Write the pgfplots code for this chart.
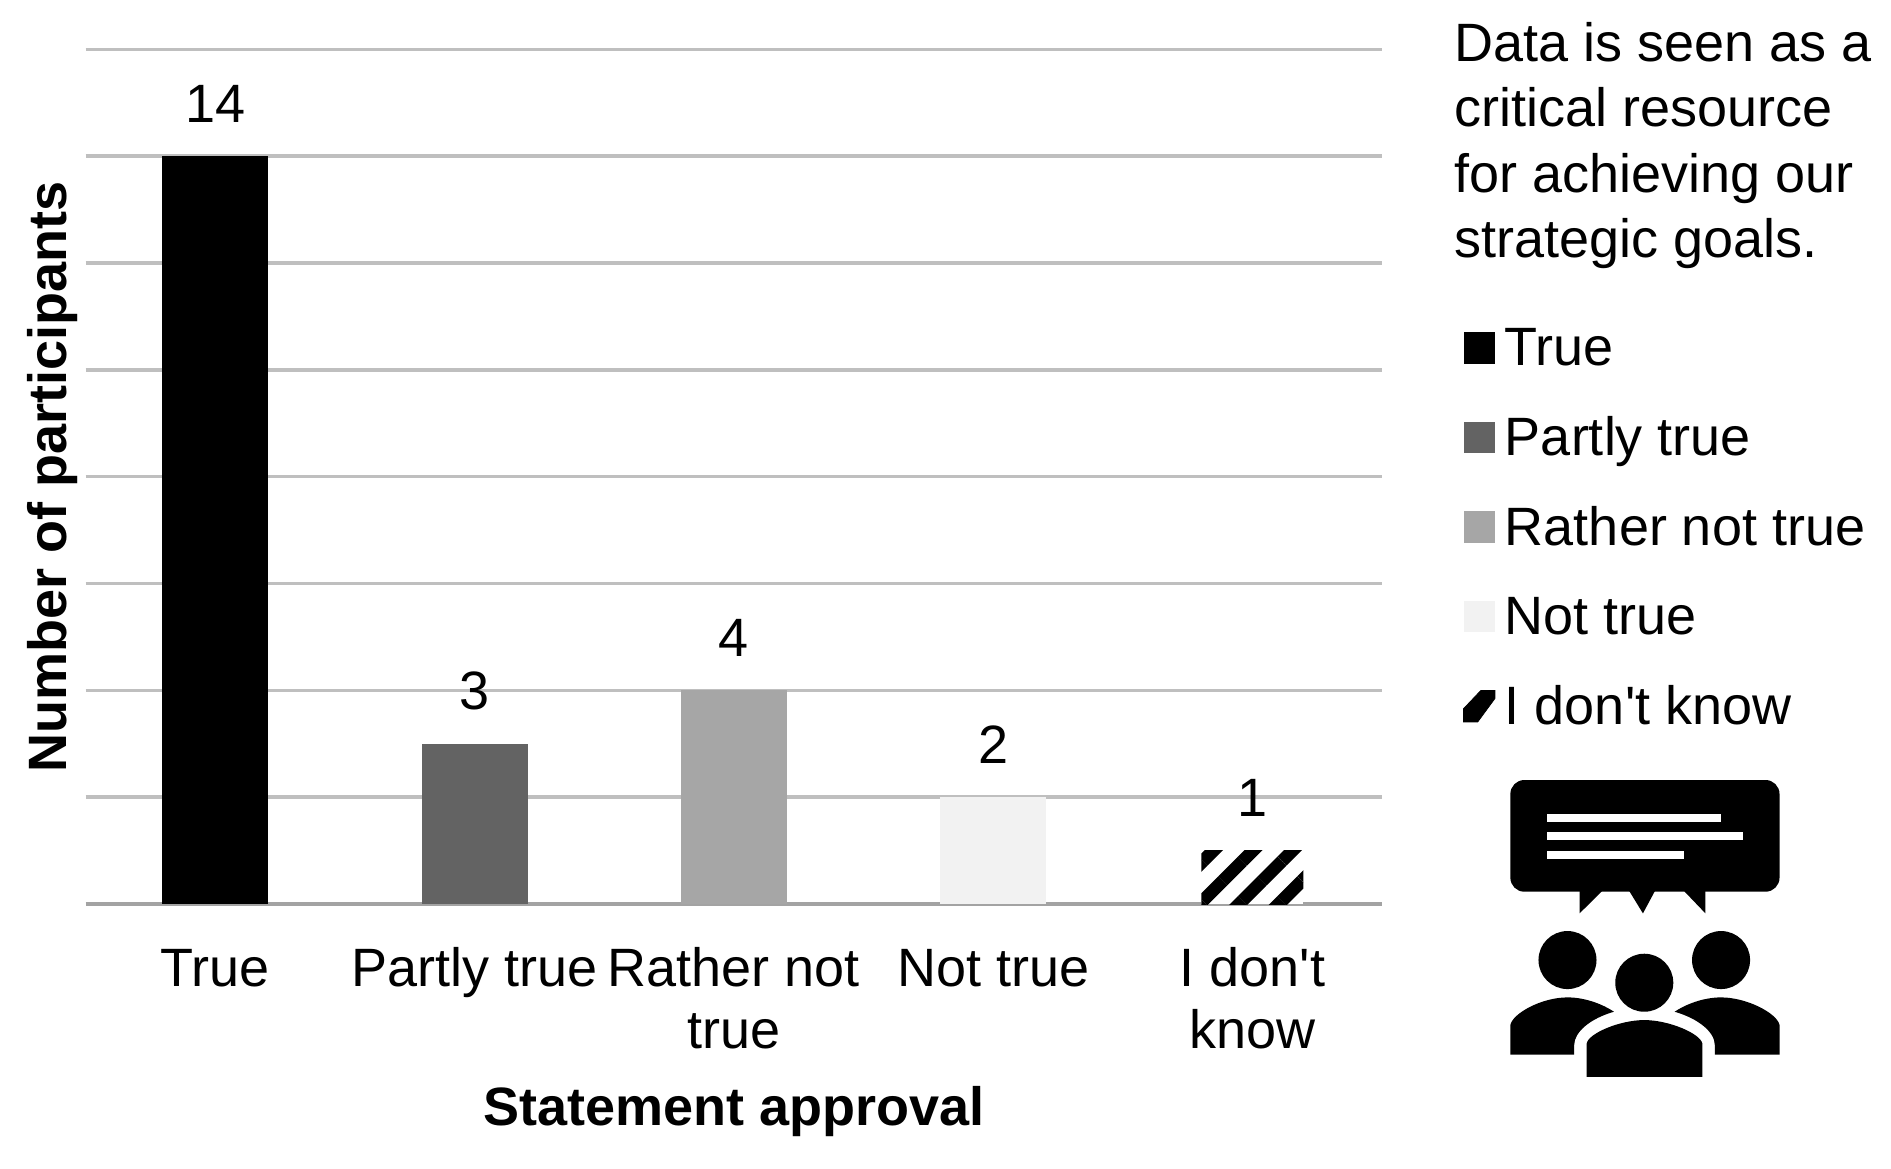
\documentclass[border=0pt]{standalone}
\usepackage{fontspec}
\setmainfont{Liberation Sans}[Ligatures=TeXOff]
\usepackage{pgfplots}
\pgfplotsset{compat=1.18}
\usetikzlibrary{patterns.meta}

\definecolor{partly}{HTML}{636363}
\definecolor{rather}{HTML}{A6A6A6}
\definecolor{nottrue}{HTML}{F2F2F2}
\definecolor{gridg}{HTML}{BFBFBF}
\definecolor{baseg}{HTML}{A3A3A3}

\newcommand{\lab}{\fontsize{27}{30.8}\selectfont}

\begin{document}
\begin{tikzpicture}
\path (0,0) rectangle (945.5pt,584pt);
\begin{axis}[
    at={(42.8pt,132pt)},
    anchor=south west,
    scale only axis,
    width=648.2pt,
    height=427.3pt,
    xmin=-0.5, xmax=4.5,
    ymin=0, ymax=16,
    axis x line=bottom,
    axis y line=left,
    axis line style={draw=none},
    x axis line style={-,draw=baseg,line width=1.9pt},
    y axis line style={-,draw=none},
    xtick={0,1,2,3,4},
    xticklabels={\vphantom{l}True,Partly true,{Rather not\\true},\vphantom{l}Not true,{I don't\\know}},
    ytick={2,4,6,8,10,12,14,16},
    yticklabels={},
    major tick length=0pt,
    ymajorgrids,
    grid style={gridg,line width=1.8pt},
    xticklabel style={align=center,anchor=north,inner sep=0pt,font=\lab,yshift=-21.6pt},
    xlabel={\textbf{Statement approval}},
    ylabel={\textbf{Number of participants}},
    every axis x label/.style={at={(axis description cs:0.5,0)},anchor=center,yshift=-103.6pt,font=\lab},
    every axis y label/.style={at={(axis description cs:0,0.5)},anchor=center,rotate=90,yshift=16.3pt,font=\lab},
    ybar,
    bar shift=0pt,
    bar width=53pt,
    /pgf/number format/assume math mode=true,
    nodes near coords,
    every node near coord/.append style={font=\lab,inner sep=0pt,anchor=base,yshift=17pt},
    legend style={
        at={(rel axis cs:1.0623,0.677)},anchor=north west,
        draw=none,fill=none,inner sep=0pt,font=\lab,
        row sep=18.8pt,
        nodes={text height=20pt,text depth=6pt,inner sep=0pt},
    },
    legend cell align=left,
    legend image code/.code={\fill[#1] (0pt,-5.85pt) rectangle (15.7pt,9.85pt); \path (20.5pt,0pt);},
]
\addplot[fill=black,draw=none] coordinates {(0,14)};
\addlegendentry{True}
\addplot[fill=partly,draw=none] coordinates {(1,3)};
\addlegendentry{Partly true}
\addplot[fill=rather,draw=none] coordinates {(2,4)};
\addlegendentry{Rather not true}
\addplot[fill=nottrue,draw=none] coordinates {(3,2)};
\addlegendentry{Not true}
\addplot[forget plot,draw=none,fill=white,bar width=51pt,postaction={pattern={Lines[angle=45,distance=14pt,line width=6.4pt,xshift=12.4pt]},pattern color=black}] coordinates {(4,1)};
\addlegendimage{legend image code/.code={
    \begin{scope}[shift={(0pt,-5.85pt)},x=15.7pt,y=15.7pt]
      \fill[black] (0,0) -- (0,.42) -- (.55,1) -- (1,1) -- (1,.75) -- (.45,0) -- cycle;
    \end{scope}
    \path (20.5pt,0pt);}}
\addlegendentry{I don't know}
\end{axis}

% statement above the legend
\node[anchor=north west,inner sep=0pt,align=left,font=\fontsize{27}{32.7}\selectfont]
  at (727.2pt,573pt) {Data is seen as a\\critical resource\\for achieving our\\strategic goals.};

% discussion icon, traced in zoom pixels
\begin{scope}[shift={(590pt,244pt)},x=0.2232pt,y=-0.1667pt]
  \fill[black,rounded corners=7pt] (740,300) rectangle (1343,635);
  \fill[black] (895,630) -- (895,700) -- (948,630) -- cycle;
  \fill[black] (1005,630) -- (1037,700) -- (1065,630) -- cycle;
  \fill[black] (1127,630) -- (1177,700) -- (1177,630) -- cycle;
  \fill[white] (822,402) rectangle (1211,425);
  \fill[white] (822,457) rectangle (1261,480);
  \fill[white] (822,513) rectangle (1128,536);
  \fill[black] (868,840) ellipse [x radius=65,y radius=87];
  \fill[black] (1212,840) ellipse [x radius=65,y radius=87];
  \fill[black] (1040,908) ellipse [x radius=65,y radius=87];
  \fill[black] (740,1124) -- (740,1035) .. controls (745,1000) and (810,952) .. (868,952)
    .. controls (910,952) and (950,975) .. (972,995)
    .. controls (920,1015) and (883,1055) .. (883,1095) -- (883,1124) -- cycle;
  \fill[black] (1343,1124) -- (1343,1035) .. controls (1338,1000) and (1270,952) .. (1212,952)
    .. controls (1170,952) and (1130,975) .. (1108,995)
    .. controls (1160,1015) and (1198,1055) .. (1198,1095) -- (1198,1124) -- cycle;
  \fill[black] (911,1190) -- (911,1090) .. controls (915,1060) and (985,1020) .. (1040,1020)
    .. controls (1095,1020) and (1165,1060) .. (1170,1090) -- (1170,1190) -- cycle;
\end{scope}
\end{tikzpicture}
\end{document}
